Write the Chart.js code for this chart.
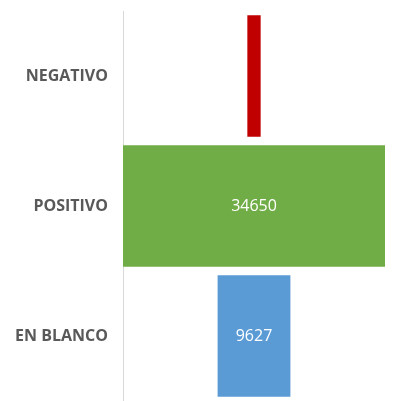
<!DOCTYPE html>
<html>
<head>
<meta charset="utf-8">
<script src="https://cdn.jsdelivr.net/npm/chart.js@4"></script>
<style>
  body { margin: 0; background: #ffffff; }
</style>
</head>
<body>
<canvas id="funnelCanvas" width="410" height="401"></canvas>
<script>
// Funnel data
var categories = ["NEGATIVO", "POSITIVO", "EN BLANCO"];
var values = [1760, 34650, 9627];
var barColors = ["#C00000", "#70AD47", "#5B9BD5"];
var showValue = [false, true, true];

// funnel = floating bars centered on the widest one
var maxValue = Math.max.apply(null, values);
var center = maxValue / 2;
var funnelData = values.map(function (v) { return [center - v / 2, center + v / 2]; });

var valueLabels = {
	id: "valueLabels",
	afterDatasetsDraw: function (chart) {
		var ctx = chart.ctx;
		var meta = chart.getDatasetMeta(0);
		ctx.save();
		ctx.fillStyle = "#ffffff";
		ctx.font = "16px 'Open Sans'";
		ctx.textAlign = "center";
		ctx.textBaseline = "middle";
		meta.data.forEach(function (bar, i) {
			if (!showValue[i]) return;
			var x = (bar.x + bar.base) / 2;
			ctx.fillText(String(values[i]), x, bar.y);
		});
		ctx.restore();
	}
};

var funnelCtx = document.getElementById("funnelCanvas").getContext("2d");
var chart = new Chart(funnelCtx, {
	type: "bar",
	data: {
		labels: categories,
		datasets: [{
			data: funnelData,
			backgroundColor: barColors,
			borderWidth: 0,
			barPercentage: 0.935,
			categoryPercentage: 1.0
		}]
	},
	options: {
		indexAxis: "y",
		responsive: false,
		animation: false,
		layout: { padding: { left: 0, right: 25, top: 11, bottom: 0 } },
		plugins: {
			legend: { display: false },
			tooltip: { enabled: false }
		},
		scales: {
			x: {
				display: false,
				min: 0,
				max: maxValue
			},
			y: {
				afterFit: function (scale) {
					scale.width = 123;
					scale.paddingTop = 0;
					scale.paddingBottom = 0;
				},
				grid: { display: false, drawTicks: false },
				border: { display: true, color: "#d9d9d9", width: 1 },
				ticks: {
					padding: 15,
					color: "#595959",
					font: { family: "'Open Sans'", size: 16, weight: "bold" }
				}
			}
		}
	},
	plugins: [valueLabels]
});
</script>
</body>
</html>
